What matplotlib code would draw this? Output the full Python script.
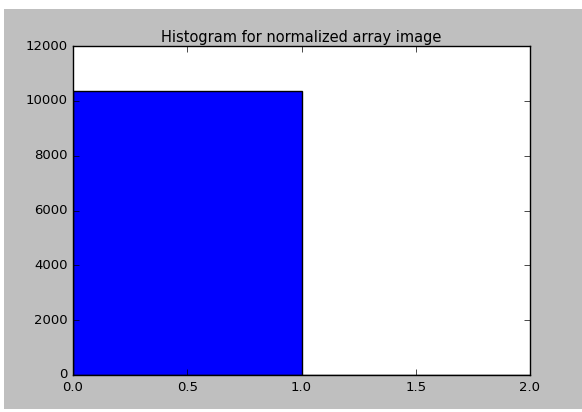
import numpy as np
import matplotlib
matplotlib.use("Agg")
import matplotlib.pyplot as plt
from matplotlib.patches import Rectangle

# Histogram data
bin_edges = [0.0, 1.0, 2.0]
counts = [10370, 0]
title = "Histogram for normalized array image"

plt.style.use("classic")

fig = plt.figure(figsize=(5.82, 4.12), dpi=100, facecolor="white")
# gray figure background, with a thin light border like the screenshot
fig.patches.append(Rectangle((4 / 582, 3 / 412), 1 - 4 / 582, 400 / 412,
                             transform=fig.transFigure, facecolor="#bfbfbf",
                             edgecolor="none", zorder=-1))

ax = fig.add_axes([73 / 582, 37 / 412, (530 - 73) / 582, (375 - 46) / 412])
ax.hist(bin_edges[:-1], bins=bin_edges, weights=counts,
        color="#0000ff", edgecolor="black", linewidth=1)

ax.set_xlim(0, 2)
ax.set_ylim(0, 12000)
ax.set_xticks([0.0, 0.5, 1.0, 1.5, 2.0])
ax.set_yticks(range(0, 12001, 2000))
ax.tick_params(labelsize=9.5)
ax.set_title(title, fontsize=10.5, pad=3)

fig.savefig("out.png", dpi=100, facecolor=fig.get_facecolor())
